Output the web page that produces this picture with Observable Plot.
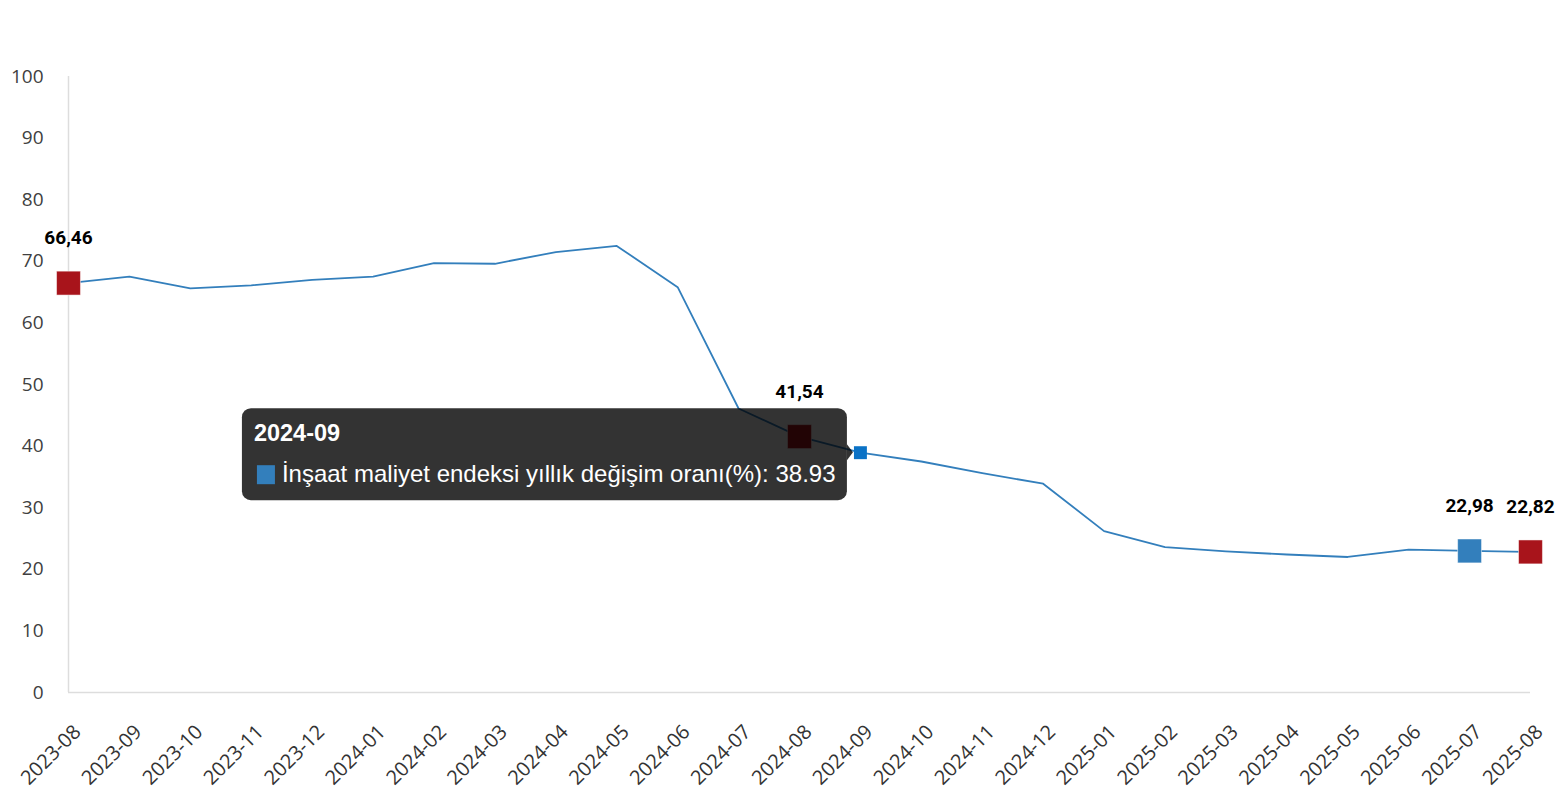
<!DOCTYPE html>
<html>
<head>
<meta charset="utf-8">
<script src="https://cdn.jsdelivr.net/npm/d3@7"></script>
<script src="https://cdn.jsdelivr.net/npm/@observablehq/plot@0.6"></script>
<style>
  body { margin: 0; background: #fff; }
  #chart { position: relative; width: 1556px; height: 800px; }
</style>
</head>
<body>
<div id="chart"></div>
<script>
const months = ["2023-08","2023-09","2023-10","2023-11","2023-12","2024-01","2024-02","2024-03","2024-04","2024-05","2024-06","2024-07","2024-08","2024-09","2024-10","2024-11","2024-12","2025-01","2025-02","2025-03","2025-04","2025-05","2025-06","2025-07","2025-08"];
const rates = [66.46, 67.5, 65.6, 66.1, 67.0, 67.5, 69.7, 69.6, 71.5, 72.5, 65.8, 46.1, 41.54, 38.93, 37.5, 35.6, 33.9, 26.2, 23.6, 22.9, 22.4, 22.0, 23.2, 22.98, 22.82];
const markedMonths = ["2023-08", "2024-08", "2025-07", "2025-08"];
const markedColors = ["#a8141b", "#a8141b", "#337fbc", "#a8141b"];
const hoverMonth = "2024-09";
const seriesName = "İnşaat maliyet endeksi yıllık değişim oranı(%)";
const yTicks = [0, 10, 20, 30, 40, 50, 60, 70, 80, 90, 100];

const data = months.map((m, i) => ({month: m, value: rates[i]}));
const marked = markedMonths.map((m, i) => ({month: m, value: rates[months.indexOf(m)], color: markedColors[i]}));
const hover = data.filter(d => d.month === hoverMonth);
const fmt = v => v.toFixed(2).replace(".", ",");

let chart = Plot.plot({
  width: 1556,
  height: 800,
  marginLeft: 68,
  marginRight: 26,
  marginTop: 76,
  marginBottom: 108,
  style: {fontFamily: "'Open Sans', sans-serif", background: "#fff"},
  x: {type: "point", domain: months, padding: 0, round: false},
  y: {domain: [0, 100]},
  marks: [
    Plot.ruleX([months[0]], {stroke: "#dddddd", strokeWidth: 1.5}),
    Plot.ruleY([0], {stroke: "#dddddd", strokeWidth: 1.5}),
    Plot.axisY({ticks: yTicks, tickSize: 0, tickPadding: 25, fontSize: 19, fill: "#404040", label: null}),
    Plot.axisX({tickSize: 0, tickPadding: 36, tickRotate: -45, fontSize: 20, fill: "#333", label: null, dx: 9}),
    Plot.line(data, {x: "month", y: "value", stroke: "#337fbc", strokeWidth: 1.8}),
    Plot.dot(marked, {x: "month", y: "value", symbol: "square", r: 13.5, fill: "color", stroke: "#fff", strokeOpacity: 0.5, strokeWidth: 1}),
    Plot.text(marked, {x: "month", y: "value", text: d => fmt(d.value), dy: -45, fontSize: 19, fontWeight: "bold", fontFamily: "Roboto, sans-serif", fill: "#000"}),
    Plot.dot(hover, {x: "month", y: "value", symbol: "square", r: 7.3, fill: "#0a72c6"})
  ]
});

d3.select("#chart").append(() => chart);

// tooltip, drawn under the hover marker
const svg = d3.select(chart);
const hx = chart.scale("x").apply(hoverMonth);
const hy = chart.scale("y").apply(hover[0].value);
const dots = svg.selectAll("g[aria-label=dot]").nodes();
const tip = svg.insert("g", () => dots[dots.length - 1])
  .attr("text-anchor", "start")
  .attr("font-family", "'Liberation Sans', Arial, sans-serif");
const tw = 605, th = 92;
const tx = hx - 13 - tw, ty = hy - th / 2 + 2;
tip.append("rect").attr("x", tx).attr("y", ty).attr("width", tw).attr("height", th)
  .attr("rx", 9).attr("fill", "#000").attr("fill-opacity", 0.8);
tip.append("path").attr("d", `M${tx + tw},${hy - 8}L${hx - 7},${hy}L${tx + tw},${hy + 8}Z`)
  .attr("fill", "#000").attr("fill-opacity", 0.8);
tip.append("text").attr("x", tx + 12).attr("y", ty + 33).text(hoverMonth)
  .attr("fill", "#fff").attr("font-size", 23.5).attr("font-weight", "bold");
tip.append("rect").attr("x", tx + 15).attr("y", ty + 57).attr("width", 18).attr("height", 19)
  .attr("fill", "#337fbc");
tip.append("text").attr("x", tx + 40).attr("y", ty + 74)
  .text(seriesName + ": " + hover[0].value.toFixed(2))
  .attr("fill", "#fff").attr("font-size", 24);
</script>
</body>
</html>
